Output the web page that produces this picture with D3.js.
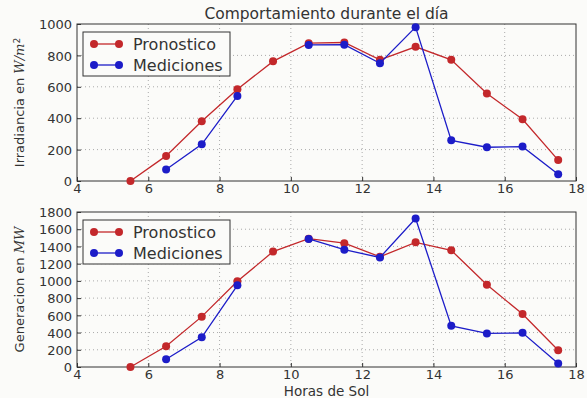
<!DOCTYPE html>
<html>
<head>
<meta charset="utf-8">
<script src="https://cdn.jsdelivr.net/npm/d3@7"></script>
<style>
  body { margin: 0; background: #fbfbf9; }
  text { font-family: "DejaVu Sans", sans-serif; fill: #333; }
</style>
</head>
<body>
<div id="wrapper"></div>
<script>
// datos
const horas = [5.5, 6.5, 7.5, 8.5, 9.5, 10.5, 11.5, 12.5, 13.5, 14.5, 15.5, 16.5, 17.5];
const irrPronostico = [0, 160, 380, 585, 762, 878, 882, 772, 855, 772, 557, 393, 133];
const irrMediciones = [null, 73, 234, 542, null, 867, 868, 750, 980, 259, 215, 219, 43];
const genPronostico = [0, 240, 585, 995, 1340, 1490, 1438, 1280, 1448, 1355, 955, 615, 195];
const genMediciones = [null, 90, 345, 948, null, 1487, 1362, 1272, 1725, 478, 390, 397, 40];
const xTicks = [4, 6, 8, 10, 12, 14, 16, 18];
const irrTicks = [0, 200, 400, 600, 800, 1000];
const genTicks = [0, 200, 400, 600, 800, 1000, 1200, 1400, 1600, 1800];

const rojo = "#c3282b";
const azul = "#1c1cc8";

const dimensions = { width: 587, height: 398, left: 77, right: 11 };

const svg = d3.select("#wrapper").append("svg")
  .attr("width", dimensions.width)
  .attr("height", dimensions.height);

const xScale = d3.scaleLinear().domain([4, 18])
  .range([dimensions.left, dimensions.width - dimensions.right]);

svg.append("text")
  .attr("x", (xScale(4) + xScale(18)) / 2)
  .attr("y", 19)
  .attr("text-anchor", "middle")
  .style("font-size", "15.5px")
  .text("Comportamiento durante el día");

svg.append("text")
  .attr("x", (xScale(4) + xScale(18)) / 2)
  .attr("y", 396)
  .attr("text-anchor", "middle")
  .style("font-size", "13.5px")
  .text("Horas de Sol");

function panel(top, bottom, yMax, ticks, pron, med, label, unit, sup) {
  const yScale = d3.scaleLinear().domain([0, yMax]).range([bottom, top]);
  const g = svg.append("g");

  // rejilla
  g.selectAll(".gx").data(xTicks.slice(1, -1)).join("line")
    .attr("x1", d => xScale(d)).attr("x2", d => xScale(d))
    .attr("y1", top).attr("y2", bottom)
    .attr("stroke", "#aaa").attr("stroke-dasharray", "1,3");
  g.selectAll(".gy").data(ticks.slice(1, -1)).join("line")
    .attr("x1", xScale(4)).attr("x2", xScale(18))
    .attr("y1", d => yScale(d)).attr("y2", d => yScale(d))
    .attr("stroke", "#aaa").attr("stroke-dasharray", "1,3");

  const xAxis = g.append("g")
    .attr("transform", `translate(0,${bottom})`)
    .call(d3.axisBottom(xScale).tickValues(xTicks).tickFormat(d3.format("d")).tickSize(-4).tickPadding(3));
  const yAxis = g.append("g")
    .attr("transform", `translate(${xScale(4)},0)`)
    .call(d3.axisLeft(yScale).tickValues(ticks).tickFormat(d3.format("d")).tickSize(-4).tickPadding(5));
  [xAxis, yAxis].forEach(a => {
    a.select(".domain").remove();
    a.selectAll("line").attr("stroke", "#333");
    a.selectAll("text").style("font-size", "13px").attr("fill", "#333").style("font-family", "DejaVu Sans");
  });
  yAxis.selectAll(".tick text").attr("dy", "0.36em");

  g.append("rect")
    .attr("x", xScale(4)).attr("y", top)
    .attr("width", xScale(18) - xScale(4)).attr("height", bottom - top)
    .attr("fill", "none").attr("stroke", "#333").attr("stroke-width", 1);

  const line = d3.line()
    .defined(d => d[1] != null)
    .x(d => xScale(d[0])).y(d => yScale(d[1]));

  [[pron, rojo], [med, azul]].forEach(([vals, col]) => {
    const pts = horas.map((h, i) => [h, vals[i]]);
    g.append("path").attr("d", line(pts))
      .attr("fill", "none").attr("stroke", col).attr("stroke-width", 1.3);
    g.selectAll(null).data(pts.filter(d => d[1] != null)).join("circle")
      .attr("cx", d => xScale(d[0])).attr("cy", d => yScale(d[1]))
      .attr("r", 4).attr("fill", col);
  });

  // leyenda
  const lg = g.append("g").attr("transform", `translate(83,${top + 8})`);
  lg.append("rect").attr("width", 147).attr("height", 44)
    .attr("fill", "#fbfbf9").attr("stroke", "#333").attr("stroke-width", 1);
  [["Pronostico", rojo], ["Mediciones", azul]].forEach(([name, col], i) => {
    const y = 12 + i * 21;
    lg.append("line").attr("x1", 11).attr("x2", 36).attr("y1", y).attr("y2", y)
      .attr("stroke", col).attr("stroke-width", 1.3);
    lg.append("circle").attr("cx", 11).attr("cy", y).attr("r", 4).attr("fill", col);
    lg.append("circle").attr("cx", 36).attr("cy", y).attr("r", 4).attr("fill", col);
    lg.append("text").attr("x", 50).attr("y", y).attr("dy", "0.36em")
      .style("font-size", "16px").text(name);
  });

  // etiqueta eje y
  const yl = svg.append("text")
    .attr("transform", `translate(24,${(top + bottom) / 2}) rotate(-90)`)
    .attr("text-anchor", "middle")
    .style("font-size", "13px");
  yl.append("tspan").text(label);
  yl.append("tspan").style("font-style", "italic").style("font-family", "DejaVu Serif").text(unit);
  if (sup) yl.append("tspan").attr("dy", "-0.5em").style("font-size", "9px").text(sup);
}

panel(24, 181, 1000, irrTicks, irrPronostico, irrMediciones, "Irradiancia en ", "W/m", "2");
panel(212, 367, 1800, genTicks, genPronostico, genMediciones, "Generacion en ", "MW", null);
</script>
</body>
</html>
